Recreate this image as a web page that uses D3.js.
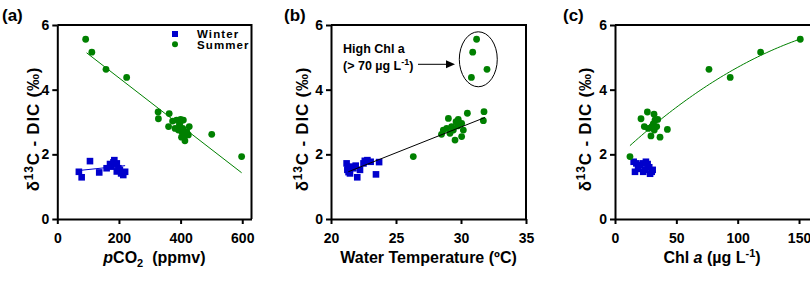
<!DOCTYPE html>
<html>
<head>
<meta charset="utf-8">
<script src="https://cdn.jsdelivr.net/npm/d3@7"></script>
<style>
  body { margin: 0; background: #fff; }
  text { font-family: "Liberation Sans", Arial, sans-serif; font-weight: bold; fill: #000; }
  .axis path, .axis line { stroke: #000; stroke-width: 2; }
  .axis text { font-size: 14px; }
  .frame { stroke: #000; stroke-width: 2; fill: none; }
</style>
</head>
<body>
<svg id="chart" width="810" height="282"></svg>
<script>
// panel (a): pCO2 vs d13C
const winterPco2 = [70, 79, 106, 136, 160, 171, 176, 185, 193, 198, 193, 207, 214, 220, 203, 182];
const winterD13cA = [1.46, 1.29, 1.79, 1.44, 1.57, 1.70, 1.62, 1.82, 1.72, 1.57, 1.47, 1.41, 1.36, 1.46, 1.52, 1.75];
const summerPco2 = [92, 112, 158, 225, 327, 328, 363, 374, 361, 387, 400, 409, 396, 382, 393, 407, 428, 420, 411, 403, 425, 414, 398, 405, 501, 598];
const summerD13cA = [5.56, 5.16, 4.63, 4.38, 3.31, 3.10, 3.26, 3.03, 2.86, 3.06, 3.08, 3.06, 2.91, 2.80, 2.75, 2.80, 2.86, 2.70, 2.55, 2.53, 2.60, 2.42, 2.98, 2.68, 2.62, 1.93];

// panel (b): water temperature
const winterTemp = [21.2, 21.26, 21.46, 21.72, 22.02, 22.23, 22.5, 22.8, 23.05, 23.7, 23.46, 21.46, 21.35, 21.9, 22.6, 21.3];
const winterD13cB = [1.72, 1.52, 1.41, 1.57, 1.29, 1.52, 1.72, 1.82, 1.77, 1.76, 1.38, 1.62, 1.45, 1.65, 1.80, 1.60];
const summerTemp = [31.2, 30.9, 32.0, 30.8, 26.33, 29.03, 29.79, 29.62, 28.64, 28.9, 29.28, 29.15, 29.54, 30.05, 30.18, 30.05, 30.49, 31.77, 31.72, 29.74, 29.41, 28.5];
const summerD13cB = [5.56, 5.16, 4.63, 4.38, 1.93, 3.11, 3.08, 3.01, 2.75, 2.80, 2.86, 2.65, 2.44, 2.55, 2.75, 2.96, 3.27, 3.32, 3.04, 2.88, 2.75, 2.62];

// panel (c): Chl a
const winterChl = [15.2, 17.4, 16.3, 20.4, 23.0, 25.2, 24.4, 27.9, 29.9, 23.0, 28.6, 18.8, 26.6, 30.7];
const winterD13cC = [1.77, 1.72, 1.46, 1.67, 1.72, 1.77, 1.52, 1.60, 1.46, 1.46, 1.40, 1.55, 1.70, 1.52];
const summerChl = [12.2, 21.2, 26.4, 31.8, 23.9, 27.2, 32.6, 34.8, 31.2, 34.0, 29.3, 36.7, 42.7, 32.0, 30.0, 76.6, 93.9, 118.7, 151.0];
const summerD13cC = [1.93, 3.10, 3.31, 3.24, 2.86, 2.80, 3.06, 3.08, 2.94, 2.86, 2.57, 2.53, 2.77, 2.75, 2.86, 4.63, 4.38, 5.16, 5.56];

// fitted lines: [slope, intercept, xmin, xmax]
const fitSummerA = [-0.007376, 5.841, 95, 598];
const fitWinterA = [0.001, 1.43, 70, 220];
const fitB = [0.1597, -1.946, 21.33, 31.85];
// quadratic: [a, b, c, xmin, xmax]
const fitC = [1.841, 0.03601, -0.0000751, 12.2, 151];

const yTicks = [0, 2, 4, 6];
const green = "#008000", blue = "#0000cc";

const svg = d3.select("#chart");
const y = d3.scaleLinear().domain([0, 6]).range([219, 25]);

const panels = [
  { id: "(a)", lab: [2, 15], x: d3.scaleLinear().domain([0, 630]).range([57.3, 251.5]), ticks: [0, 200, 400, 600],
    wx: winterPco2, wy: winterD13cA, sx: summerPco2, sy: summerD13cA, ytx: 39, xt: "a" },
  { id: "(b)", lab: [284, 15], x: d3.scaleLinear().domain([20, 35]).range([331, 526]), ticks: [20, 25, 30, 35],
    wx: winterTemp, wy: winterD13cB, sx: summerTemp, sy: summerD13cB, ytx: 308, xt: "b" },
  { id: "(c)", lab: [563, 15], x: d3.scaleLinear().domain([0, 160]).range([615, 811.3]), ticks: [0, 50, 100, 150],
    wx: winterChl, wy: winterD13cC, sx: summerChl, sy: summerD13cC, ytx: 591, xt: "c" }
];

panels.forEach(p => {
  const g = svg.append("g");
  const [x0, x1] = p.x.range();

  // frame top/right
  g.append("path").attr("class", "frame")
    .attr("d", `M${x0},${y(6)}H${x1}V${y(0)}`);

  g.append("g").attr("class", "axis").attr("transform", `translate(0,${y(0)})`)
    .call(d3.axisBottom(p.x).tickValues(p.ticks).tickSize(5).tickPadding(9).tickSizeOuter(0));
  g.append("g").attr("class", "axis").attr("transform", `translate(${x0},0)`)
    .call(d3.axisLeft(y).tickValues(yTicks).tickFormat(d3.format("d")).tickSize(5).tickPadding(3).tickSizeOuter(0));

  // panel label
  g.append("text").attr("x", p.lab[0]).attr("y", p.lab[1] + 6).style("font-size", "17px").text(p.id);

  // y title
  const yt = g.append("text").attr("transform", `translate(${p.ytx},129) rotate(-90)`)
    .attr("text-anchor", "middle").style("font-size", "17px").style("letter-spacing", "0.8px");
  yt.append("tspan").text("δ");
  yt.append("tspan").attr("dy", -6).style("font-size", "12px").text("13");
  yt.append("tspan").attr("dy", 6).text("C - DIC (‰)");

  // x title
  const xt = g.append("text").attr("x", (x0 + Math.min(x1, 818)) / 2).attr("y", 263)
    .attr("text-anchor", "middle").style("font-size", "16px");
  if (p.xt === "a") {
    xt.append("tspan").style("font-style", "italic").text("p");
    xt.append("tspan").text("CO");
    xt.append("tspan").attr("dy", 4).style("font-size", "11px").text("2");
    xt.append("tspan").attr("dy", -4).text("\u00a0 (ppmv)");
  } else if (p.xt === "b") {
    xt.text("Water Temperature (ºC)");
  } else {
    xt.attr("x", 712);
    xt.append("tspan").text("Chl ");
    xt.append("tspan").style("font-style", "italic").text("a");
    xt.append("tspan").text(" (µg L");
    xt.append("tspan").attr("dy", -6).style("font-size", "11px").text("-1");
    xt.append("tspan").attr("dy", 6).text(")");
  }

  // points
  g.selectAll("rect.w").data(d3.range(p.wx.length)).join("rect")
    .attr("x", i => p.x(p.wx[i]) - 3.3).attr("y", i => y(p.wy[i]) - 3.3)
    .attr("width", 6.6).attr("height", 6.6).attr("fill", blue);
  g.selectAll("circle.s").data(d3.range(p.sx.length)).join("circle")
    .attr("cx", i => p.x(p.sx[i])).attr("cy", i => y(p.sy[i])).attr("r", 3.4).attr("fill", green);
  p.g = g;
});

// fit lines
function linFit(g, xs, f, color) {
  g.append("line").attr("x1", xs(f[2])).attr("y1", y(f[0] * f[2] + f[1]))
    .attr("x2", xs(f[3])).attr("y2", y(f[0] * f[3] + f[1]))
    .attr("stroke", color).attr("stroke-width", 1);
}
linFit(panels[0].g, panels[0].x, fitSummerA, green);
linFit(panels[0].g, panels[0].x, fitWinterA, blue);
linFit(panels[1].g, panels[1].x, fitB, "#000");
const cx = d3.range(fitC[3], fitC[4] + 0.01, (fitC[4] - fitC[3]) / 60);
panels[2].g.append("path")
  .attr("d", d3.line().x(v => panels[2].x(v)).y(v => y(fitC[0] + fitC[1] * v + fitC[2] * v * v))(cx))
  .attr("fill", "none").attr("stroke", green).attr("stroke-width", 1);

// legend in (a)
const lg = panels[0].g;
lg.append("rect").attr("x", 172).attr("y", 31).attr("width", 6).attr("height", 6).attr("fill", blue);
lg.append("circle").attr("cx", 175).attr("cy", 44.3).attr("r", 3).attr("fill", green);
lg.append("text").attr("x", 197).attr("y", 38).style("font-size", "11.5px").style("letter-spacing", "1.1px").text("Winter");
lg.append("text").attr("x", 197).attr("y", 48.5).style("font-size", "11.5px").style("letter-spacing", "1.1px").text("Summer");

// annotation in (b)
const bg = panels[1].g, bx = panels[1].x;
bg.append("ellipse").attr("cx", bx(31.33)).attr("cy", y(4.94))
  .attr("rx", bx(31.33 + 1.46) - bx(31.33)).attr("ry", y(4.94 - 0.85) - y(4.94))
  .attr("fill", "none").attr("stroke", "#000").attr("stroke-width", 1);
bg.append("text").attr("x", 343).attr("y", 53).style("font-size", "12.5px").text("High Chl a");
const t2 = bg.append("text").attr("x", 343).attr("y", 70).style("font-size", "12.5px");
t2.append("tspan").text("(> 70 µg L");
t2.append("tspan").attr("dy", -5).style("font-size", "9px").text("-1");
t2.append("tspan").attr("dy", 5).text(")");
bg.append("line").attr("x1", 418).attr("y1", 64.3).attr("x2", 447).attr("y2", 64.3).attr("stroke", "#000").attr("stroke-width", 1);
bg.append("path").attr("d", "M446,60.3L455,64.3L446,68.3Z").attr("fill", "#000");
</script>
</body>
</html>
